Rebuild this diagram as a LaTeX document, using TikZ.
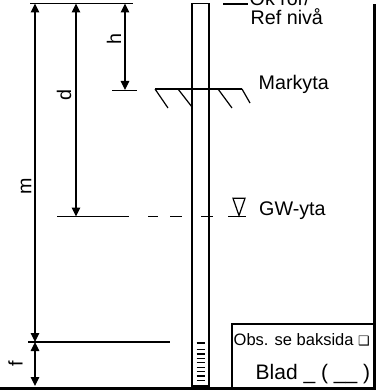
\documentclass[tikz,border=0pt]{standalone}
\usepackage{fontspec}
\setmainfont{Liberation Sans}
\newfontfamily\symfont{DejaVu Sans}
\usetikzlibrary{arrows.meta}
\begin{document}
\begin{tikzpicture}[x=1pt,y=-1pt,
  ln/.style={line width=1.2pt},
  dimarrow/.style={line width=1.2pt,{Triangle[length=9pt,width=8.5pt]}-{Triangle[length=9pt,width=8.5pt]}},
  lbl/.style={inner sep=0pt,font=\fontsize{19.7}{22}\selectfont},
  vlbl/.style={lbl,rotate=90},
  frameline/.style={line width=2.6pt}]
\useasboundingbox (0,0) rectangle (376,390);
% reference points
\coordinate (topL) at (30,3.5);   \coordinate (topR) at (133,3.5);
\coordinate (mT) at (35,3.5);     \coordinate (mB) at (35,342);
\coordinate (dT) at (76,3.5);     \coordinate (dB) at (76,216.5);
\coordinate (hT) at (125,3.5);    \coordinate (hB) at (125,90);
\coordinate (fT) at (35,342);     \coordinate (fB) at (35,386);
\coordinate (mkL) at (112,90.5);  \coordinate (mkR) at (137,90.5);
\coordinate (gwL) at (57,216.5);  \coordinate (gwR) at (129,216.5);
\coordinate (btL) at (28,342);    \coordinate (btR) at (170,342);
\coordinate (okL) at (223,4);     \coordinate (okR) at (248,4);
\coordinate (grL) at (155,89);    \coordinate (grR) at (242,89);
% horizontal reference lines
\draw[ln] (topL) -- (topR);
\draw[ln] (mkL) -- (mkR);
\draw[ln] (gwL) -- (gwR);
\draw[ln] (btL) -- (btR);
\draw[ln] (okL) -- (okR);
% dimension arrows
\draw[dimarrow] (mT) -- (mB);
\draw[dimarrow] (dT) -- (dB);
\draw[dimarrow] (hT) -- (hB);
\draw[dimarrow] (fT) -- (fB);
% labels of dimensions
\node[vlbl] (hlab) at (114,39) {h};
\node[vlbl] (dlab) at (64,95.5) {d};
\node[vlbl] (mlab) at (26,186.5) {m};
\node[vlbl] (flab) at (15.5,363.5) {f};
% pipe
\draw[ln] (192,3.5) rectangle (209,386);
\foreach \yy in {343,349.5,353.9,358.3,362.7,367.1,371.5,375.9,380.3}
  \draw[ln] (196.5,\yy) -- (205,\yy);
% ground surface
\draw[ln] (grL) -- (grR);
\draw[ln] (155,89) -- (168,108);
\draw[ln] (178,89) -- (192,107);
\draw[ln] (218,89) -- (232,108);
\draw[ln] (242,89) -- (250,103);
% groundwater level
\draw[ln] (148,216.5) -- (158,216.5);
\draw[ln] (170,216.5) -- (182,216.5);
\draw[ln] (201,216.5) -- (213,216.5);
\draw[ln] (228,216.5) -- (246,216.5);
\draw[ln,line join=miter] (233,198.3) -- (245,198.3) -- (239,215.5) -- cycle;
% texts
\node[lbl,anchor=base west] (ok) at (249.5,6) {Ok rör/};
\node[lbl,anchor=base west] (ref) at (250.5,25) {Ref nivå};
\node[lbl,anchor=base west] (mark) at (258.5,90) {Markyta};
\node[lbl,anchor=base west] (gw) at (259,215) {GW-yta};
% info box
\draw[frameline] (232,389) -- (232,324) -- (374.5,324);
\node[inner sep=0pt,font=\fontsize{16.5}{18}\selectfont,anchor=base west] (obs) at (233.5,345) {Obs. se baksida {\symfont\fontsize{13}{15}\selectfont ❑}};
\node[inner sep=0pt,font=\fontsize{21}{24}\selectfont,anchor=base west] (blad) at (255.5,379.5) {Blad \_ ( \_\_ )};
% frame
\draw[frameline] (0,388.5) -- (374.5,388.5) -- (374.5,4);
\end{tikzpicture}
\end{document}
